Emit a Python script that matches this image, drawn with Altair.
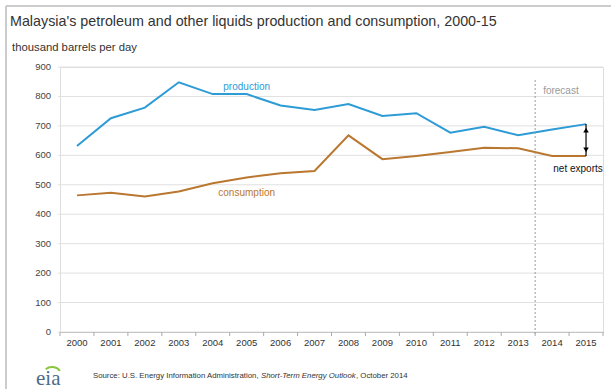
import altair as alt
import pandas as pd

years = ["2000", "2001", "2002", "2003", "2004", "2005", "2006", "2007",
         "2008", "2009", "2010", "2011", "2012", "2013", "2014", "2015"]
production = [632, 726, 762, 848, 808, 808, 769, 754, 774, 734, 743, 677, 697, 668, 688, 706]
consumption = [464, 473, 460, 477, 505, 525, 539, 547, 668, 587, 598, 611, 626, 624, 598, 598]
series_names = ["production", "consumption"]
series_colors = ["#2C9BD6", "#BA772F"]
y_ticks = [0, 100, 200, 300, 400, 500, 600, 700, 800, 900]
forecast_start = "2014"

FONT = "Liberation Sans"
W, H = 543, 265

rows = []
for i, y in enumerate(years):
    rows.append({"year": y, "value": production[i], "series": "production"})
    rows.append({"year": y, "value": consumption[i], "series": "consumption"})
df = pd.DataFrame(rows)

X_AXIS = alt.Axis(title=None, ticks=False, labelAngle=0, labelAlign="center",
                  bandPosition=0.5, grid=False,
                  domainColor="#aaaaaa", labelColor="#333333", labelFontSize=9.5,
                  labelFont=FONT, labelPadding=5, labelOverlap=False)
# y gridlines and labels are drawn as their own layers below
Y_AXIS = alt.Axis(title=None, labels=False, grid=False, domain=False, ticks=False)


def xe(band=None):
    sc = alt.Scale(type="band", domain=years, paddingInner=0, paddingOuter=0)
    if band is None:
        return alt.X("year:O", scale=sc, axis=X_AXIS)
    return alt.X("year:O", scale=sc, axis=X_AXIS, bandPosition=band)


def ye():
    return alt.Y("value:Q", scale=alt.Scale(domain=[0, 900], nice=False, zero=True),
                 axis=Y_AXIS)


color = alt.Color("series:N", scale=alt.Scale(domain=series_names, range=series_colors),
                  legend=None)

tick_df = pd.DataFrame({"value": y_ticks})
grid = alt.Chart(tick_df).mark_rule(color="#e0e0e0", strokeWidth=1).encode(
    y=ye(), x=alt.value(-2), x2=alt.value(W))
ylabels = alt.Chart(tick_df).mark_text(align="right", baseline="middle", font=FONT,
                                       fontSize=9.5, color="#444444").encode(
    y=ye(), x=alt.value(-9), text="value:Q")

lines = alt.Chart(df).mark_line(strokeWidth=2).encode(x=xe(), y=ye(), color=color)

# band-boundary ticks on the x axis
ticks = alt.Chart(pd.DataFrame({"year": years})).mark_rule(color="#aaaaaa").encode(
    x=xe(0), y=alt.value(H), y2=alt.value(H + 4))
tick_end = alt.Chart(pd.DataFrame({"a": [0]})).mark_rule(color="#aaaaaa").encode(
    x=alt.value(W), y=alt.value(H), y2=alt.value(H + 4))

fc = alt.Chart(pd.DataFrame({"year": [forecast_start]})).mark_rule(
    strokeDash=[2, 2], color="#9a9a9a", strokeWidth=1
).encode(x=xe(0), y=alt.value(13), y2=alt.value(H + 4))

fc_label = alt.Chart(pd.DataFrame({"year": [forecast_start]})).mark_text(
    align="left", baseline="middle", font=FONT, fontSize=10, color="#9a9a9a", dx=8
).encode(x=xe(0), y=alt.value(24), text=alt.value("forecast"))

lab = pd.DataFrame({
    "year": ["2005", "2005"],
    "value": [production[5], consumption[5]],
    "series": series_names,
})
prod_lab = alt.Chart(lab[lab.series == "production"]).mark_text(
    font=FONT, fontSize=10, baseline="middle", dy=-7
).encode(x=xe(), y=ye(), color=color, text="series:N")
cons_lab = alt.Chart(lab[lab.series == "consumption"]).mark_text(
    font=FONT, fontSize=10, baseline="middle", dy=16
).encode(x=xe(), y=ye(), color=color, text="series:N")

arrow_df = pd.DataFrame({"year": [years[-1]], "value": [production[-1]],
                         "bottom": [consumption[-1]]})
ends_top = pd.DataFrame({"year": [years[-1]], "value": [production[-1]]})
ends_bot = pd.DataFrame({"year": [years[-1]], "value": [consumption[-1]]})
arrow = alt.Chart(arrow_df).mark_rule(color="black", strokeWidth=1.2).encode(
    x=xe(), y=ye(), y2="bottom:Q")
head_up = alt.Chart(ends_top).mark_point(shape="triangle-up", filled=True, size=30,
                                         color="black", opacity=1, yOffset=6).encode(
    x=xe(), y=ye())
head_dn = alt.Chart(ends_bot).mark_point(shape="triangle-down", filled=True, size=30,
                                         color="black", opacity=1, yOffset=-6).encode(
    x=xe(), y=ye())
net_lab = alt.Chart(ends_bot).mark_text(font=FONT, fontSize=10, color="#111111",
                                        baseline="middle", dy=13, dx=-8).encode(
    x=xe(), y=ye(), text=alt.value("net exports"))

one = pd.DataFrame({"a": [0]})
title = alt.Chart(one).mark_text(align="left", baseline="alphabetic", font=FONT,
                                 fontSize=14.3, color="#333333").encode(
    x=alt.value(-50), y=alt.value(-41),
    text=alt.value("Malaysia's petroleum and other liquids production and consumption, 2000-15"))
subtitle = alt.Chart(one).mark_text(align="left", baseline="alphabetic", font=FONT,
                                    fontSize=11.3, color="#333333").encode(
    x=alt.value(-48), y=alt.value(-16), text=alt.value("thousand barrels per day"))
src1 = alt.Chart(one).mark_text(align="left", baseline="alphabetic", font=FONT,
                                fontSize=7.8, color="#333333").encode(
    x=alt.value(33), y=alt.value(311),
    text=alt.value("Source: U.S. Energy Information Administration,"))
src2 = alt.Chart(one).mark_text(align="left", baseline="alphabetic", font=FONT,
                                fontSize=7.8, fontStyle="italic", color="#333333").encode(
    x=alt.value(201), y=alt.value(311), text=alt.value("Short-Term Energy Outlook"))
src3 = alt.Chart(one).mark_text(align="left", baseline="alphabetic", font=FONT,
                                fontSize=7.8, color="#333333").encode(
    x=alt.value(296), y=alt.value(311), text=alt.value(", October 2014"))
logo = alt.Chart(one).mark_text(align="left", baseline="alphabetic", font="Liberation Serif",
                                fontSize=21, color="#4d6b86").encode(
    x=alt.value(-24), y=alt.value(318), text=alt.value("eia"))
swoosh = alt.Chart(one).mark_arc(theta=5.6, theta2=7.2, innerRadius=9, outerRadius=11,
                                 color="#8cc63f").encode(
    x=alt.value(-8), y=alt.value(310))

frame_top = alt.Chart(one).mark_rule(color="#cccccc", strokeWidth=2).encode(
    x=alt.value(-54), x2=alt.value(560), y=alt.value(-61))
frame_left = alt.Chart(one).mark_rule(color="#cccccc", strokeWidth=2).encode(
    x=alt.value(-54), y=alt.value(-61), y2=alt.value(330))

chart = alt.layer(
    grid, lines, ylabels, fc, ticks, tick_end, fc_label, prod_lab, cons_lab, arrow,
    head_up, head_dn, net_lab, title, subtitle, src1, src2, src3, logo, swoosh,
    frame_top, frame_left,
).properties(
    width=W, height=H,
    autosize=alt.AutoSizeParams(type="none"),
    padding={"left": 60, "top": 67, "right": 8, "bottom": 57},
).configure_view(stroke=None).configure(background="white")

chart.save("out.html", embed_options={"renderer": "svg", "actions": False})
